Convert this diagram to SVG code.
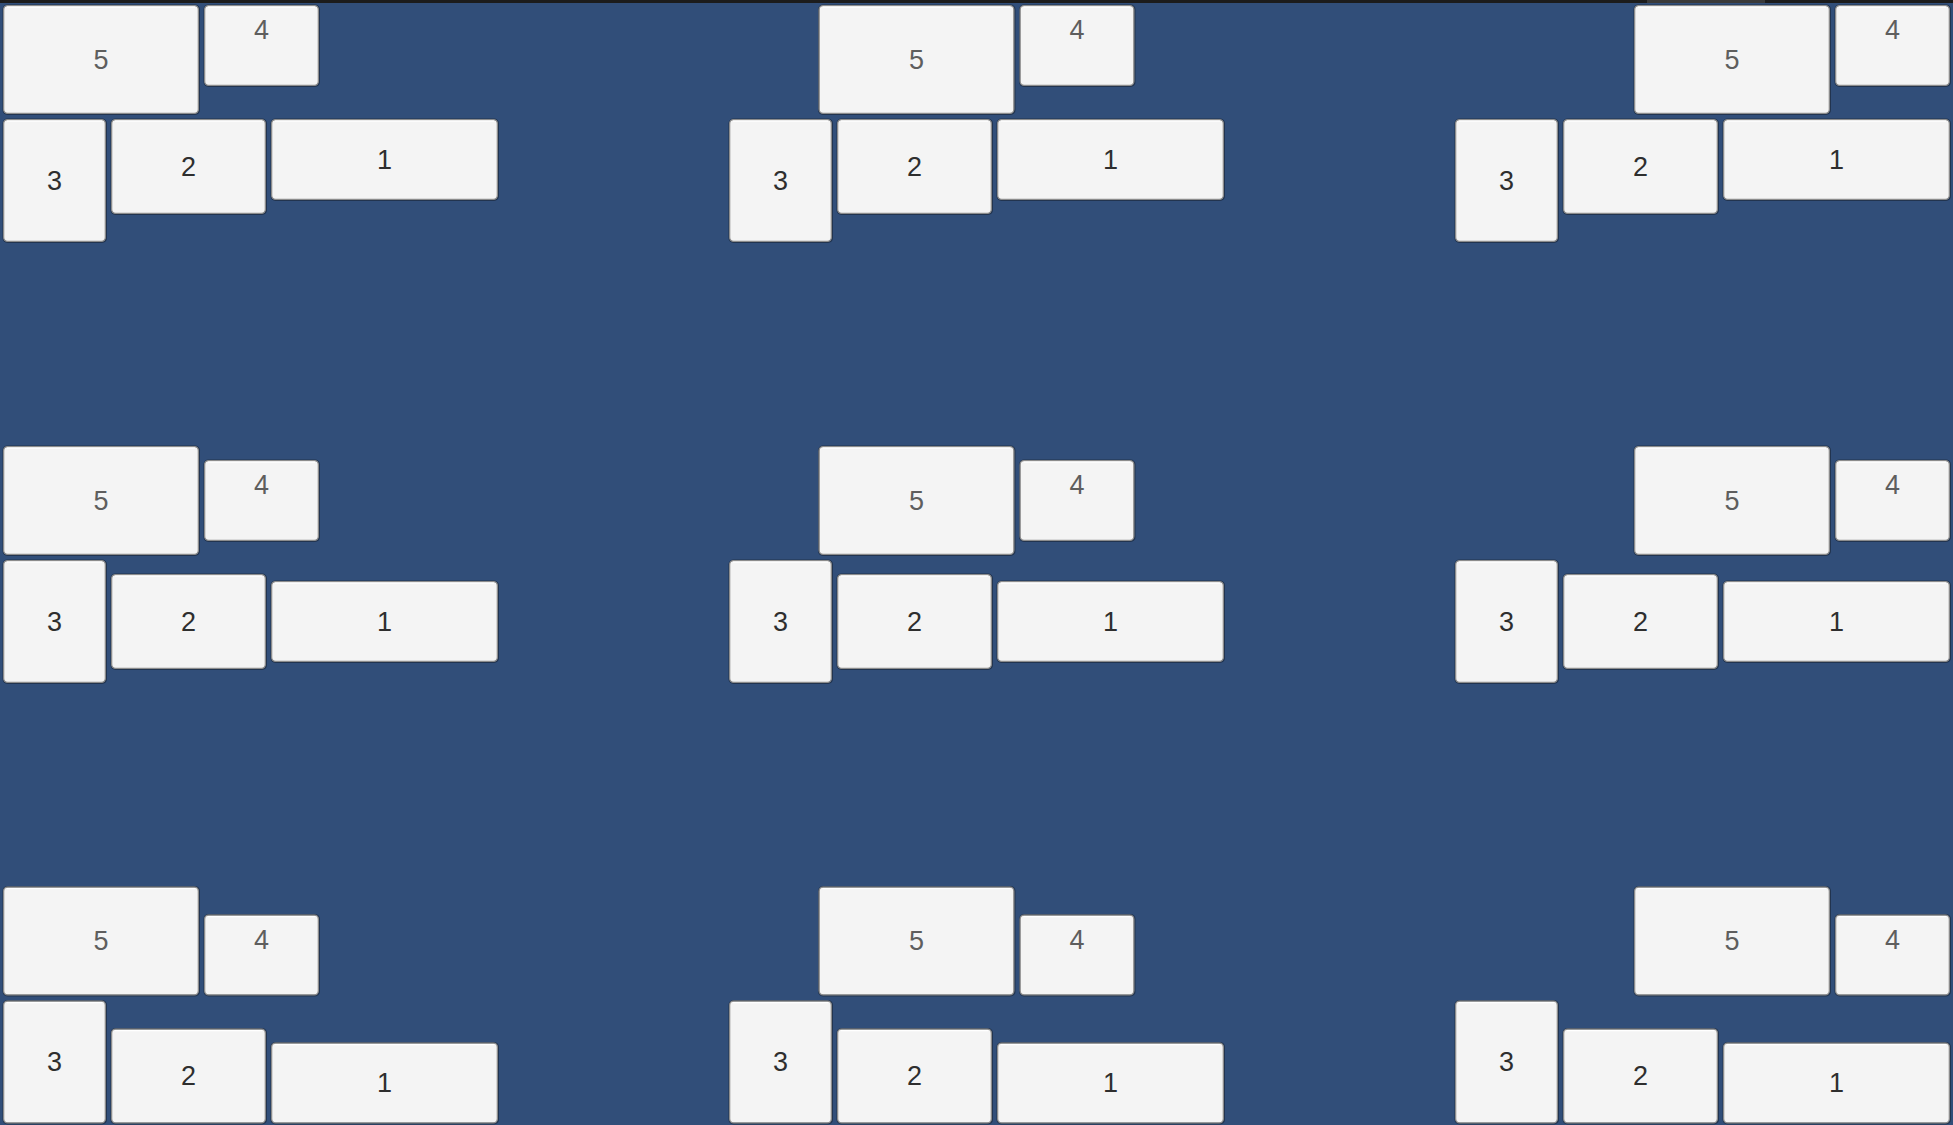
<svg xmlns="http://www.w3.org/2000/svg" width="1953" height="1125" viewBox="0 0 1953 1125">
<style>
.bg{fill:#314e79}
.sh{fill:#22344f}
.box{fill:#f4f4f4;stroke:#8c8c8c;stroke-width:1.3}
.hl{stroke:#ffffff;stroke-width:1.3;fill:none}
.t{font-family:"Liberation Sans",Arial,sans-serif;font-size:27px;text-anchor:middle}
.lt{fill:#5e5e5e}
.dk{fill:#2e2e2e}
</style>
<defs>
<g id="b5"><rect class="sh" x="-0.5" y="-0.5" width="197.5" height="110.5" rx="5"/><rect class="box" x="0.65" y="0.65" width="194.7" height="107.7" rx="4"/><path class="hl" d="M4 2.2H192"/><text class="t lt" x="98" y="63.5">5</text></g>
<g id="b4"><rect class="sh" x="-0.5" y="-0.5" width="116.5" height="82.5" rx="5"/><rect class="box" x="0.65" y="0.65" width="113.7" height="79.7" rx="4"/><path class="hl" d="M4 2.2H111"/><text class="t lt" x="57.5" y="34">4</text></g>
<g id="b3"><rect class="sh" x="-0.5" y="-0.5" width="104.5" height="124.5" rx="5"/><rect class="box" x="0.65" y="0.65" width="101.7" height="121.7" rx="4"/><path class="hl" d="M4 2.2H99"/><text class="t dk" x="51.5" y="70.5">3</text></g>
<g id="b2"><rect class="sh" x="-0.5" y="-0.5" width="156.5" height="96.5" rx="5"/><rect class="box" x="0.65" y="0.65" width="153.7" height="93.7" rx="4"/><path class="hl" d="M4 2.2H151"/><text class="t dk" x="77.5" y="56.5">2</text></g>
<g id="b1"><rect class="sh" x="-0.5" y="-0.5" width="228.5" height="82.5" rx="5"/><rect class="box" x="0.65" y="0.65" width="225.7" height="79.7" rx="4"/><path class="hl" d="M4 2.2H223"/><text class="t dk" x="113.5" y="49.5">1</text></g>
</defs>
<rect class="bg" x="0" y="0" width="1953" height="1125"/>
<rect x="0" y="0" width="1953" height="3" fill="#1c1c1c"/>
<rect x="1647" y="0" width="118" height="3" fill="#3a3a3a"/>

<g id="cell-r1c1">
<g id="r1c1-5" transform="translate(3,5)"><use href="#b5"/></g>
<g id="r1c1-4" transform="translate(204,5)"><use href="#b4"/></g>
<g id="r1c1-3" transform="translate(3,119)"><use href="#b3"/></g>
<g id="r1c1-2" transform="translate(111,119)"><use href="#b2"/></g>
<g id="r1c1-1" transform="translate(271,119)"><use href="#b1"/></g>
</g>
<g id="cell-r1c2">
<g id="r1c2-5" transform="translate(818.5,5)"><use href="#b5"/></g>
<g id="r1c2-4" transform="translate(1019.5,5)"><use href="#b4"/></g>
<g id="r1c2-3" transform="translate(729,119)"><use href="#b3"/></g>
<g id="r1c2-2" transform="translate(837,119)"><use href="#b2"/></g>
<g id="r1c2-1" transform="translate(997,119)"><use href="#b1"/></g>
</g>
<g id="cell-r1c3">
<g id="r1c3-5" transform="translate(1634,5)"><use href="#b5"/></g>
<g id="r1c3-4" transform="translate(1835,5)"><use href="#b4"/></g>
<g id="r1c3-3" transform="translate(1455,119)"><use href="#b3"/></g>
<g id="r1c3-2" transform="translate(1563,119)"><use href="#b2"/></g>
<g id="r1c3-1" transform="translate(1723,119)"><use href="#b1"/></g>
</g>

<g id="cell-r2c1">
<g id="r2c1-5" transform="translate(3,446)"><use href="#b5"/></g>
<g id="r2c1-4" transform="translate(204,460)"><use href="#b4"/></g>
<g id="r2c1-3" transform="translate(3,560)"><use href="#b3"/></g>
<g id="r2c1-2" transform="translate(111,574)"><use href="#b2"/></g>
<g id="r2c1-1" transform="translate(271,581)"><use href="#b1"/></g>
</g>
<g id="cell-r2c2">
<g id="r2c2-5" transform="translate(818.5,446)"><use href="#b5"/></g>
<g id="r2c2-4" transform="translate(1019.5,460)"><use href="#b4"/></g>
<g id="r2c2-3" transform="translate(729,560)"><use href="#b3"/></g>
<g id="r2c2-2" transform="translate(837,574)"><use href="#b2"/></g>
<g id="r2c2-1" transform="translate(997,581)"><use href="#b1"/></g>
</g>
<g id="cell-r2c3">
<g id="r2c3-5" transform="translate(1634,446)"><use href="#b5"/></g>
<g id="r2c3-4" transform="translate(1835,460)"><use href="#b4"/></g>
<g id="r2c3-3" transform="translate(1455,560)"><use href="#b3"/></g>
<g id="r2c3-2" transform="translate(1563,574)"><use href="#b2"/></g>
<g id="r2c3-1" transform="translate(1723,581)"><use href="#b1"/></g>
</g>

<g id="cell-r3c1">
<g id="r3c1-5" transform="translate(3,886.5)"><use href="#b5"/></g>
<g id="r3c1-4" transform="translate(204,914.5)"><use href="#b4"/></g>
<g id="r3c1-3" transform="translate(3,1000.5)"><use href="#b3"/></g>
<g id="r3c1-2" transform="translate(111,1028.5)"><use href="#b2"/></g>
<g id="r3c1-1" transform="translate(271,1042.5)"><use href="#b1"/></g>
</g>
<g id="cell-r3c2">
<g id="r3c2-5" transform="translate(818.5,886.5)"><use href="#b5"/></g>
<g id="r3c2-4" transform="translate(1019.5,914.5)"><use href="#b4"/></g>
<g id="r3c2-3" transform="translate(729,1000.5)"><use href="#b3"/></g>
<g id="r3c2-2" transform="translate(837,1028.5)"><use href="#b2"/></g>
<g id="r3c2-1" transform="translate(997,1042.5)"><use href="#b1"/></g>
</g>
<g id="cell-r3c3">
<g id="r3c3-5" transform="translate(1634,886.5)"><use href="#b5"/></g>
<g id="r3c3-4" transform="translate(1835,914.5)"><use href="#b4"/></g>
<g id="r3c3-3" transform="translate(1455,1000.5)"><use href="#b3"/></g>
<g id="r3c3-2" transform="translate(1563,1028.5)"><use href="#b2"/></g>
<g id="r3c3-1" transform="translate(1723,1042.5)"><use href="#b1"/></g>
</g>

<g id="connectors"/>
</svg>
